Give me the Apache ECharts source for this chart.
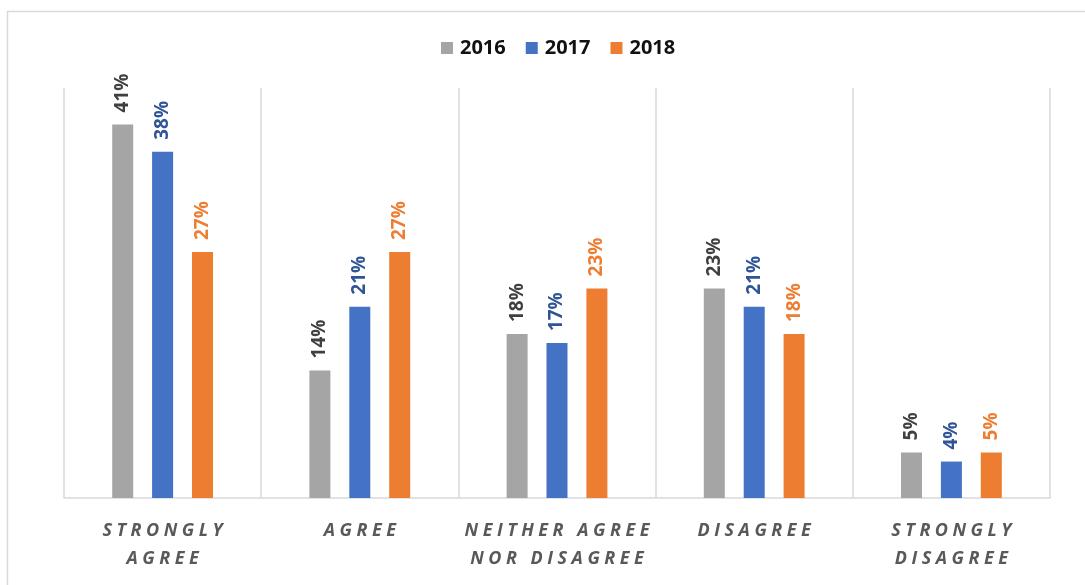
<!DOCTYPE html>
<html>
<head>
<meta charset="utf-8">
<script src="https://cdn.jsdelivr.net/npm/echarts@6/dist/echarts.min.js"></script>
<style>
  html, body { margin: 0; padding: 0; background: #fff; }
  #chart { width: 1085px; height: 585px; }
</style>
</head>
<body>
<div id="chart"></div>
<script>
// Survey responses by year
const categories = ['STRONGLY\nAGREE', 'AGREE', 'NEITHER AGREE\nNOR DISAGREE', 'DISAGREE', 'STRONGLY\nDISAGREE'];
const years = ['2016', '2017', '2018'];
const values2016 = [41, 14, 18, 23, 5];
const values2017 = [38, 21, 17, 21, 4];
const values2018 = [27, 27, 23, 18, 5];

const barColors = ['#A5A5A5', '#4472C4', '#ED7D31'];
const labelColors = ['#404040', '#2F5597', '#ED7D31'];
const FONT = '"Open Sans", Lato, sans-serif';

// widen the tracking of axis labels with a thin gap between letters
const SP = '\u2005';
function spaced(s) {
  return s.split('\n').map(line => line.split('').join(SP)).join('\n');
}

function makeSeries(name, data, i) {
  return {
    name: name,
    type: 'bar',
    data: data,
    barWidth: 21,
    barGap: '90%',
    itemStyle: { color: barColors[i] },
    label: {
      show: true,
      position: 'top',
      distance: 12,
      rotate: 90,
      align: 'left',
      verticalAlign: 'middle',
      formatter: '{c}%',
      fontFamily: FONT,
      fontWeight: 'bold',
      fontSize: 19,
      color: labelColors[i]
    }
  };
}

const chart = echarts.init(document.getElementById('chart'), null, { renderer: 'canvas' });
chart.setOption({
  animation: false,
  backgroundColor: '#fff',
  graphic: [{
    type: 'rect',
    shape: { x: 7.5, y: 11.5, width: 1100, height: 620 },
    style: { fill: 'none', stroke: '#D9D9D9', lineWidth: 1.5 },
    silent: true,
    z: -1
  }],
  legend: {
    top: 33,
    left: 436,
    itemWidth: 12,
    itemHeight: 12,
    itemGap: 20,
    icon: 'rect',
    textStyle: { fontFamily: FONT, fontWeight: 'bold', fontSize: 20, color: '#111', padding: [0, 0, 0, 2] },
    data: years
  },
  grid: { left: 64, right: 35, top: 88, bottom: 87 },
  xAxis: {
    type: 'category',
    data: categories,
    boundaryGap: true,
    axisLine: { lineStyle: { color: '#D9D9D9', width: 1.5 } },
    axisTick: { show: false },
    splitLine: { show: true, lineStyle: { color: '#D9D9D9', width: 1.5 } },
    axisLabel: {
      margin: 19,
      interval: 0,
      fontFamily: FONT,
      fontStyle: 'italic',
      fontWeight: 'bold',
      fontSize: 18,
      lineHeight: 28,
      color: '#595959',
      formatter: v => spaced(v)
    }
  },
  yAxis: {
    type: 'value',
    min: 0,
    max: 45,
    show: false,
    splitLine: { show: false }
  },
  series: [
    makeSeries(years[0], values2016, 0),
    makeSeries(years[1], values2017, 1),
    makeSeries(years[2], values2018, 2)
  ]
});
</script>
</body>
</html>
